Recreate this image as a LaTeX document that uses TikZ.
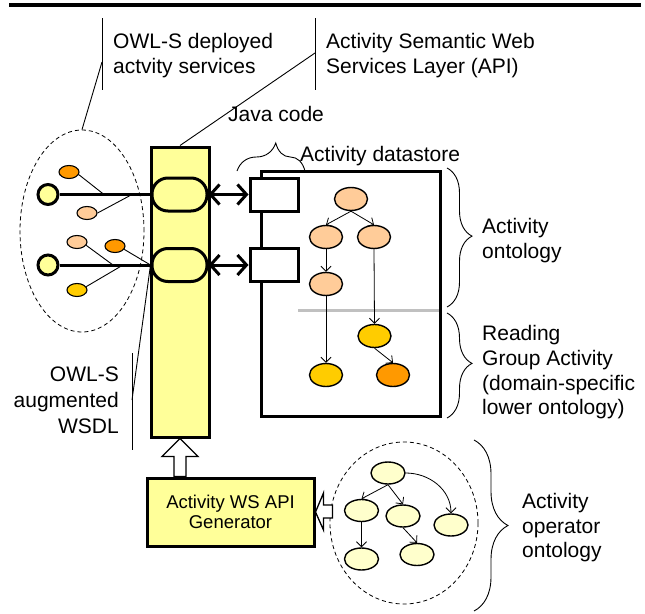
\documentclass[tikz,border=0pt]{standalone}
\usepackage{fontspec}
\setmainfont{Liberation Sans}
\usetikzlibrary{arrows.meta,decorations.pathreplacing,shapes.geometric,calc}
\definecolor{barY}{HTML}{FFFF99}
\definecolor{peach}{HTML}{FFCC99}
\definecolor{dorange}{HTML}{FF9900}
\definecolor{gold}{HTML}{FFCC00}
\definecolor{paleY}{HTML}{FFFFCC}
\definecolor{lgray}{HTML}{C0C0C0}
\begin{document}
\begin{tikzpicture}[x=1pt,y=-1pt,
  lbl/.style={font=\fontsize{21}{25}\selectfont, inner sep=0, anchor=base west},
  lblr/.style={font=\fontsize{21}{25}\selectfont, inner sep=0, anchor=base east},
  leader/.style={line width=0.9pt},
  thickln/.style={line width=3pt},
  heavybox/.style={draw, line width=3pt, inner sep=0},
  pill/.style={draw, fill=barY, line width=3pt, rounded corners=16pt, minimum width=55pt, minimum height=33pt, inner sep=0},
  port/.style={circle, draw, fill=barY, line width=3pt, minimum size=20pt, inner sep=0},
  se/.style={ellipse, draw, line width=1.1pt, minimum width=20pt, minimum height=13pt, inner sep=0},
  de/.style={ellipse, draw, line width=1.4pt, minimum width=33pt, minimum height=23pt, inner sep=0},
  oe/.style={ellipse, draw, fill=paleY, line width=1.4pt, minimum width=34pt, minimum height=22pt, inner sep=0},
  cloud/.style={ellipse, draw, line width=0.8pt, dash pattern=on 4pt off 3pt, inner sep=0},
  tarr/.style={-{Straight Barb[length=5pt,width=10pt]}, line width=0.8pt},
  dbl/.style={thickln, {Straight Barb[length=9pt,width=20pt]}-{Straight Barb[length=9pt,width=20pt]}},
  brc/.style={decorate, line width=0.9pt},
  blockarrow/.style={draw, fill=white, line width=1.3pt, line join=miter}
]
\useasboundingbox (0,0) rectangle (645,613);

% top rule
\coordinate (r1) at (9,5);
\coordinate (r2) at (641,5);
\draw[line width=3.5pt] (r1) -- (r2);

% dashed clouds
\node[cloud, minimum width=124pt, minimum height=202pt] (cloudA) at (82,231) {};
\node[cloud, minimum width=148pt, minimum height=162pt] (cloudB) at (404,523) {};

% leaders top
\coordinate (L1t) at (102,18);
\coordinate (L1b) at (102,90);
\coordinate (L1m) at (102,62);
\draw[leader] (L1t) -- (L1b);
\draw[leader] (L1m) -- (cloudA.north);
\coordinate (L2t) at (315,18);
\coordinate (L2b) at (315,90);
\coordinate (L2m) at (315,53);
\draw[leader] (L2t) -- (L2b);

% bar
\node[heavybox, fill=barY, minimum width=58pt, minimum height=290pt] (bar) at (180,292) {};
\draw[leader] (L2m) -- (bar.north);
\node[pill] (p1) at (179.5,194.5) {};
\node[pill] (p2) at (179.5,265) {};

% left ports
\node[port] (c1) at (48,194.5) {};
\node[port] (c2) at (48,265) {};
\draw[thickln] (c1.east) -- (p1.west);
\draw[thickln] (c2.east) -- (p2.west);

% small services
\node[se, fill=dorange] (e1) at (69,172) {};
\node[se, fill=peach] (e2) at (87,213) {};
\node[se, fill=peach] (e3) at (77,242) {};
\node[se, fill=dorange] (e4) at (115,246) {};
\node[se, fill=gold] (e5) at (77,290) {};
\coordinate (j1) at (104,194.5);
\coordinate (j2) at (132,194.5);
\coordinate (j3) at (113,265);
\coordinate (j5) at (123,265);
\draw[leader] (e1.-15) -- (j1);
\draw[leader] (e2.east) -- (j2);
\draw[leader] (e3.-20) -- (j3);
\draw[leader] (e4.-20) -- (p2.west);
\draw[leader] (e5.20) -- (j5);

% WSDL leader
\coordinate (L3t) at (132,353);
\coordinate (L3b) at (132,450);
\coordinate (L3m) at (132,400);
\draw[leader] (L3t) -- (L3b);
\draw[leader] (L3m) -- (p2.west);

% datastore
\coordinate (g1) at (298,310);
\coordinate (g2) at (439,310);
\draw[lgray, line width=3pt] (g1) -- (g2);
\node[heavybox, minimum width=179pt, minimum height=245pt] (ds) at (350.5,293.5) {};
\node[heavybox, fill=white, minimum width=48pt, minimum height=33pt] (b1) at (274,194.5) {};
\node[heavybox, fill=white, minimum width=48pt, minimum height=33pt] (b2) at (274,265) {};
\draw[dbl] (p1.east) -- (b1.west);
\draw[dbl] (p2.east) -- (b2.west);

\node[de, fill=peach] (n1) at (351,199) {};
\node[de, fill=peach] (n2) at (326,237) {};
\node[de, fill=peach] (n3) at (374,237) {};
\node[de, fill=peach] (n4) at (326,284) {};
\node[de, fill=gold] (n5) at (374.5,336) {};
\node[de, fill=gold] (n6) at (326,375) {};
\node[de, fill=dorange] (n7) at (393,375) {};
\draw[tarr] (n1.south) -- (n2.north);
\draw[tarr] (n1.south) -- (n3.north);
\draw[tarr] (n2.south) -- (n4.north);
\draw[tarr] (n3.south) -- (n5.north);
\draw[tarr] (n4.south) -- (n6.north);
\draw[tarr] (n5.south) -- (n7.north);

% braces
\coordinate (bA1) at (237,171);
\coordinate (bA2) at (305,171);
\draw[brc, decoration={brace, amplitude=28pt, aspect=0.57}] (bA1) -- (bA2);
\coordinate (bB1) at (447,168);
\coordinate (bB2) at (447,307);
\draw[brc, decoration={brace, amplitude=25pt, aspect=0.49}] (bB1) -- (bB2);
\coordinate (bC1) at (447,313);
\coordinate (bC2) at (447,418);
\draw[brc, decoration={brace, amplitude=25pt, aspect=0.48}] (bC1) -- (bC2);
\coordinate (bD1) at (474,440);
\coordinate (bD2) at (474,611);
\draw[brc, decoration={brace, amplitude=34pt, aspect=0.5}] (bD1) -- (bD2);

% generator
\node[heavybox, fill=barY, minimum width=167pt, minimum height=68pt, align=center,
  font=\fontsize{18.5}{20.5}\selectfont] (gen) at (230.5,512) {Activity WS API\\Generator};
% block arrow up
\draw[blockarrow] (bar.south) -- ($(bar.south)+(-18,18)$) -- ($(bar.south)+(-6,18)$)
  -- ($(bar.south|-gen.north)+(-6,0)$) -- ($(bar.south|-gen.north)+(6,0)$)
  -- ($(bar.south)+(6,18)$) -- ($(bar.south)+(18,18)$) -- cycle;
% block arrow left
\draw[blockarrow] (gen.east) -- ++(8,-19) -- ++(0,12) -- ++(9,0) -- ++(0,13) -- ++(-9,0) -- ++(0,12) -- cycle;

% operator ontology
\node[oe] (o1) at (388,473) {};
\node[oe] (o2) at (361.5,510.5) {};
\node[oe] (o3) at (403,516) {};
\node[oe] (o4) at (451,525) {};
\node[oe] (o5) at (361.5,559) {};
\node[oe] (o6) at (417,554.5) {};
\draw[tarr] (o1.south) -- (o2.north);
\draw[tarr] (o1.south) -- (o3.north);
\draw[tarr] (o1.east) to[out=0,in=90] (o4.north);
\draw[tarr] (o2.south) -- (o5.north);
\draw[tarr] (o3.south) -- (o6.north);

% texts
\node[lbl] (t1a) at (113,48) {OWL-S deployed};
\node[lbl] (t1b) at (113,73) {actvity services};
\node[lbl] (t2a) at (326,48) {Activity Semantic Web};
\node[lbl] (t2b) at (326,73) {Services Layer (API)};
\node[lbl] (t3) at (228,121) {Java code};
\node[lbl] (t4) at (300,161) {Activity datastore};
\node[lbl] (t5a) at (482,233) {Activity};
\node[lbl] (t5b) at (482,258) {ontology};
\node[lbl] (t6a) at (482,340) {Reading};
\node[lbl] (t6b) at (482,365) {Group Activity};
\node[lbl] (t6c) at (482,390) {(domain-specific};
\node[lbl] (t6d) at (482,414) {lower ontology)};
\node[lblr] (t7a) at (119,381) {OWL-S};
\node[lblr] (t7b) at (119,407) {augmented};
\node[lblr] (t7c) at (119,433) {WSDL};
\node[lbl] (t8a) at (522,508) {Activity};
\node[lbl] (t8b) at (522,533) {operator};
\node[lbl] (t8c) at (522,557) {ontology};
\end{tikzpicture}
\end{document}
